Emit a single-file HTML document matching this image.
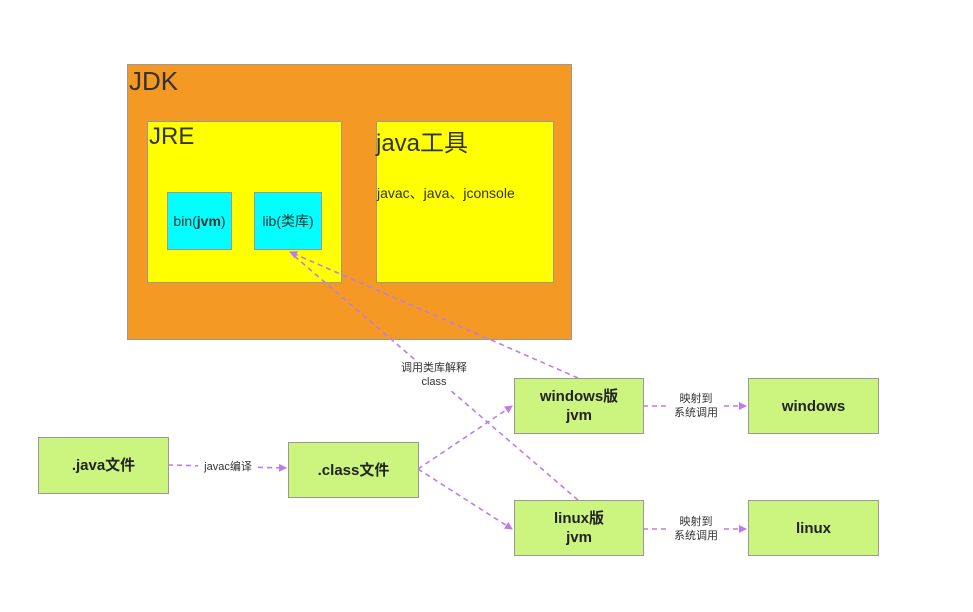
<!DOCTYPE html>
<html><head><meta charset="utf-8"><style>
body{margin:0;width:973px;height:612px;background:#fff;position:relative;font-family:"Liberation Sans","Noto Sans CJK SC",sans-serif;overflow:hidden}
.b{position:absolute;box-sizing:border-box;border:1px solid #999}
.g{background:#ccf57f;border:1px solid #999;display:flex;align-items:center;justify-content:center;text-align:center;font-weight:bold;font-size:15px;color:#222;line-height:19px}
.t{position:absolute;color:#333}
.l{position:absolute;font-size:11px;color:#333;text-align:center;line-height:14px;background:#fff}
</style></head><body>
<div class="b" style="left:127px;top:64px;width:445px;height:276px;background:#f49a24"></div>
<div class="t" style="left:129px;top:66px;font-size:26px">JDK</div>
<div class="b" style="left:147px;top:121px;width:195px;height:162px;background:#ffff00"></div>
<div class="t" style="left:149px;top:123px;font-size:24px">JRE</div>
<div class="b" style="left:376px;top:121px;width:178px;height:162px;background:#ffff00"></div>
<div class="t" style="left:376px;top:123px;font-size:24px">java工具</div>
<div class="t" style="left:377px;top:183px;font-size:14px">javac、java、jconsole</div>
<div class="b" style="left:167px;top:192px;width:65px;height:58px;background:#00ffff;display:flex;align-items:center;justify-content:center;font-size:14px;color:#333">bin(<b>jvm</b>)</div>
<div class="b" style="left:254px;top:192px;width:68px;height:58px;background:#00ffff;display:flex;align-items:center;justify-content:center;font-size:14px;color:#333">lib(类库)</div>
<svg style="position:absolute;left:0;top:0" width="973" height="612">
<defs><marker id="a" markerWidth="8" markerHeight="8" refX="7" refY="4" orient="auto" markerUnits="userSpaceOnUse"><path d="M0,0L8,4L0,8z" fill="#c07af0"/></marker></defs>
<g stroke="#c07af0" stroke-width="1.6" stroke-dasharray="5,4" fill="none">
<line x1="578" y1="378" x2="290" y2="252" marker-end="url(#a)"/>
<line x1="578" y1="500" x2="292" y2="254"/>
<line x1="168" y1="465" x2="286" y2="468" marker-end="url(#a)"/>
<line x1="418" y1="469" x2="512" y2="406" marker-end="url(#a)"/>
<line x1="418" y1="469" x2="512" y2="529" marker-end="url(#a)"/>
<line x1="643" y1="406" x2="746" y2="406" marker-end="url(#a)"/>
<line x1="643" y1="529" x2="746" y2="529" marker-end="url(#a)"/>
</g></svg>
<div class="l" style="left:394px;top:361px;width:80px;height:30px">调用类库解释<br>class</div>
<div class="l" style="left:198px;top:460px;width:60px">javac编译</div>
<div class="l" style="left:668px;top:392px;width:56px">映射到<br>系统调用</div>
<div class="l" style="left:668px;top:515px;width:56px">映射到<br>系统调用</div>
<div class="b g" style="left:38px;top:437px;width:131px;height:57px">.java文件</div>
<div class="b g" style="left:288px;top:442px;width:131px;height:56px">.class文件</div>
<div class="b g" style="left:514px;top:378px;width:130px;height:56px">windows版<br>jvm</div>
<div class="b g" style="left:514px;top:500px;width:130px;height:56px">linux版<br>jvm</div>
<div class="b g" style="left:748px;top:378px;width:131px;height:56px">windows</div>
<div class="b g" style="left:748px;top:500px;width:131px;height:56px">linux</div>
</body></html>
